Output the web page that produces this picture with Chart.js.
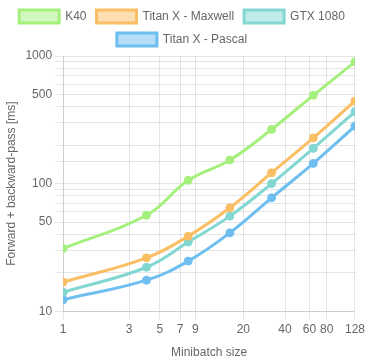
<!DOCTYPE html>
<html>
<head>
<meta charset="utf-8">
<script src="https://cdn.jsdelivr.net/npm/chart.js@4.4.0/dist/chart.umd.min.js"></script>
<style>
  html, body { margin: 0; padding: 0; background: #fff; }
  #wrap { width: 368px; height: 360px; }
</style>
</head>
<body>
<div id="wrap"><canvas id="myChart"></canvas></div>
<script>
// minibatch sizes and timings (ms)
var batchSizes = [1, 4, 8, 16, 32, 64, 128];
var k40 = [31, 56.5, 106, 153, 266, 492, 900];
var titanMaxwell = [16.9, 26.2, 38.7, 64.6, 121.6, 228, 444];
var gtx1080 = [14.1, 22.1, 34.8, 55.6, 100, 189, 366];
var titanPascal = [12.3, 17.5, 24.7, 41.1, 77.4, 144, 282];

var xTicks = [1, 3, 5, 7, 9, 20, 40, 60, 80, 128];
var yLabels = [10, 50, 100, 500, 1000];

var fontFam = 'Liberation Sans, Arial, sans-serif';

function points(values) {
    return batchSizes.map(function (b, i) {
        return { x: b, y: values[i] };
    });
}

function serie(label, values, line, fill) {
    return {
        label: label,
        data: points(values),
        borderColor: line,
        backgroundColor: fill,
        pointBackgroundColor: line,
        pointBorderColor: line,
        borderWidth: 3,
        pointRadius: 4,
        pointBorderWidth: 1,
        tension: 0.4,
        fill: false
    };
}

var ctx = document.getElementById('myChart');
var myChart = new Chart(ctx, {
    type: 'line',
    data: {
        datasets: [
            serie('K40', k40, 'rgba(165, 240, 125, 1)', 'rgba(165, 240, 125, 0.5)'),
            serie('Titan X - Maxwell', titanMaxwell, 'rgba(250, 190, 100, 1)', 'rgba(250, 190, 100, 0.5)'),
            serie('GTX 1080', gtx1080, 'rgba(130, 215, 210, 1)', 'rgba(130, 215, 210, 0.5)'),
            serie('Titan X - Pascal', titanPascal, 'rgba(110, 190, 240, 1)', 'rgba(110, 190, 240, 0.5)')
        ]
    },
    options: {
        responsive: true,
        maintainAspectRatio: false,
        animation: false,
        layout: { padding: { left: 0, right: 4, top: 0, bottom: 0 } },
        plugins: {
            legend: {
                labels: {
                    boxWidth: 40,
                    boxHeight: 13,
                    padding: 10,
                    color: '#666',
                    font: { family: fontFam, size: 12 }
                }
            },
            tooltip: { enabled: false }
        },
        scales: {
            x: {
                type: 'logarithmic',
                min: 1,
                max: 128,
                afterBuildTicks: function (axis) {
                    axis.ticks = xTicks.map(function (v) { return { value: v }; });
                },
                ticks: {
                    autoSkip: false,
                    maxRotation: 0,
                    color: '#666',
                    font: { family: fontFam, size: 12 },
                    callback: function (value) { return String(value); }
                },
                grid: { color: 'rgba(0,0,0,0.1)', tickLength: 8 },
                title: {
                    display: true,
                    text: 'Minibatch size',
                    color: '#666',
                    padding: { top: 6, bottom: 0 },
                    font: { family: fontFam, size: 12 }
                }
            },
            y: {
                type: 'logarithmic',
                min: 10,
                max: 1000,
                ticks: {
                    autoSkip: false,
                    color: '#666',
                    font: { family: fontFam, size: 12 },
                    callback: function (value) {
                        return yLabels.indexOf(value) >= 0 ? String(value) : '';
                    }
                },
                grid: { color: 'rgba(0,0,0,0.1)', tickLength: 8 },
                title: {
                    display: true,
                    text: 'Forward + backward-pass [ms]',
                    color: '#666',
                    font: { family: fontFam, size: 12 }
                }
            }
        }
    }
});
</script>
</body>
</html>
